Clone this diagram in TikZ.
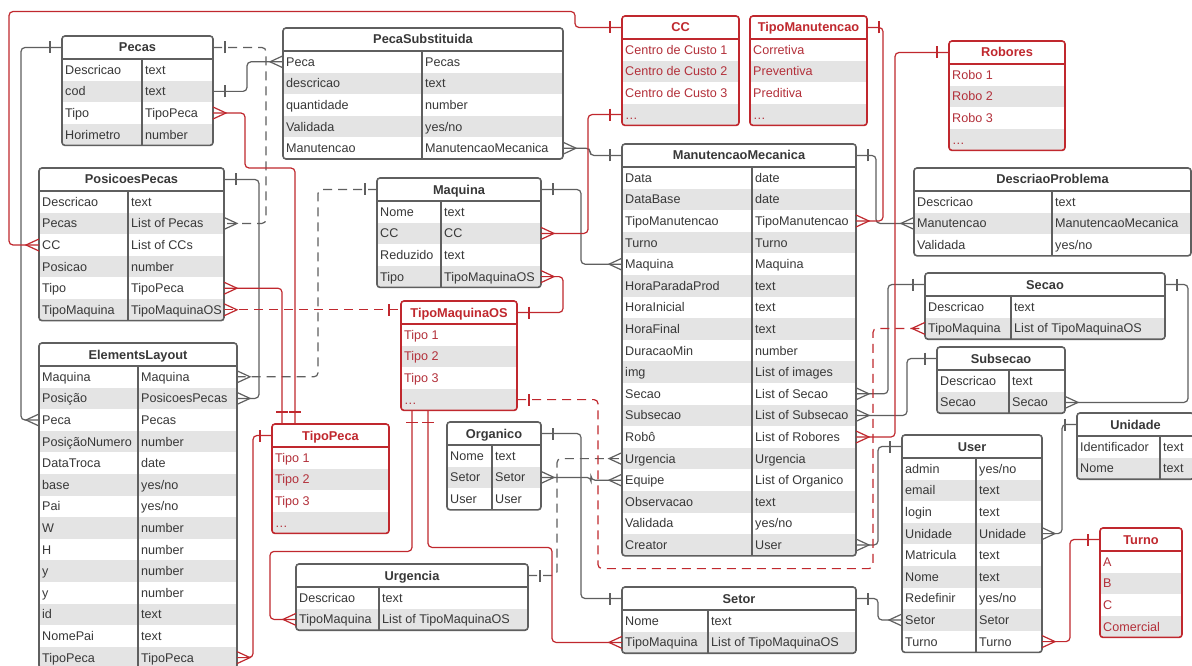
\documentclass[tikz,border=0pt]{standalone}
\usepackage{fontspec}
\setmainfont{Liberation Sans}
\usetikzlibrary{calc}
\usetikzlibrary{decorations.markings}

\definecolor{linegray}{HTML}{5F5F5F}
\definecolor{txtgray}{HTML}{383838}
\definecolor{rowgray}{HTML}{E4E4E4}
\definecolor{enumred}{HTML}{C0282E}
\definecolor{enumtext}{HTML}{B3303A}

\newcommand{\rowh}{21.6} % height of one field row, in px

\tikzset{
	tabhead/.style={inner sep=0, outer sep=0, fill=white, minimum height=23pt,
		text height=9pt, text depth=0pt, font=\fontsize{12.8}{15}\selectfont\bfseries, text=txtgray},
	rowcell/.style={inner sep=0, outer sep=0, minimum height={\rowh*1pt}},
	celltext/.style={anchor=west, inner sep=0, xshift=3pt, text height=9pt, text depth=0pt, text=txtgray},
	tabframe/.style={draw=linegray, line width=1.6pt},
	enumframe/.style={draw=enumred, line width=1.6pt},
	conn/.style={color=linegray, line width=1.2pt, rounded corners=4pt},
	redconn/.style={color=enumred, line width=1.2pt, rounded corners=4pt},
	dashlink/.style={dash pattern=on 9pt off 6pt},
	% crow's foot ends
	one end/.style={postaction={decorate,decoration={markings,
		mark=at position 1 with {\draw[solid, sharp corners] (-12pt,-6pt) -- (-12pt,6pt);}}}},
	one start/.style={postaction={decorate,decoration={markings,
		mark=at position 0 with {\draw[solid, sharp corners] (12pt,-6pt) -- (12pt,6pt);}}}},
	many end/.style={postaction={decorate,decoration={markings,
		mark=at position 1 with {\draw[solid, sharp corners] (0,-6pt) -- (-13pt,0) -- (0,6pt);}}}},
	many start/.style={postaction={decorate,decoration={markings,
		mark=at position 0 with {\draw[solid, sharp corners] (0,-6pt) -- (13pt,0) -- (0,6pt);}}}},
}

\newcommand{\enttable}[8] % name, left, top, divider, right, number of fields, title, fields
{
	% header
	\node[tabhead, minimum width={(#5-#2)*1pt}, anchor=north west] (#1) at (#2,#3) {#7};
	% fields
	\foreach \k/\v [count=\i] in {#8} {
		\pgfmathsetmacro{\rtop}{#3+23+(\i-1)*\rowh}
		\pgfmathsetmacro{\rmid}{\rtop+\rowh/2}
		\ifodd\i\relax \def\rfill{white}\else \def\rfill{rowgray}\fi
		\node[rowcell, fill=\rfill, minimum width={(#5-#2)*1pt}, anchor=north west] (#1-\i) at (#2,\rtop) {};
		\node[celltext] (#1-\i-k) at (#2,\rmid) {\k};
		\node[celltext] (#1-\i-v) at (#4,\rmid) {\v};
	}
	% frame
	\pgfmathsetmacro{\rbot}{#3+23+#6*\rowh}
	\draw[tabframe] (#2,#3+23) -- (#5,#3+23);
	\draw[tabframe] (#4,#3+23) -- (#4,\rbot);
	\draw[tabframe, rounded corners=3pt] (#2,#3) rectangle (#5,\rbot);
}

\newcommand{\enumtable}[6] % name, left, top, right, title, four values
{
	\node[tabhead, text=enumred, minimum width={(#4-#2)*1pt}, anchor=north west] (#1) at (#2,#3) {#5};
	\foreach \v [count=\i] in {#6} {
		\pgfmathsetmacro{\rtop}{#3+23+(\i-1)*\rowh}
		\pgfmathsetmacro{\rmid}{\rtop+\rowh/2}
		\ifodd\i\relax \def\rfill{white}\else \def\rfill{rowgray}\fi
		\node[rowcell, fill=\rfill, minimum width={(#4-#2)*1pt}, anchor=north west] (#1-\i) at (#2,\rtop) {};
		\node[celltext, text=enumtext] (#1-\i-k) at (#2,\rmid) {\v};
	}
	\pgfmathsetmacro{\rbot}{#3+23+4*\rowh}
	\draw[enumframe] (#2,#3+23) -- (#4,#3+23);
	\draw[enumframe, rounded corners=3pt] (#2,#3) rectangle (#4,\rbot);
}

\begin{document}
\begin{tikzpicture}[x=1pt, y=-1pt, font=\fontsize{12.6}{15}\selectfont]
	\useasboundingbox[fill=white] (0,0) rectangle (1192,666);

	% tables
	\enttable{pecas}{62}{36}{142}{213}{4}{Pecas}{Descricao/text, cod/text, Tipo/TipoPeca, Horimetro/number}
	\enttable{pecasub}{283}{28}{422}{563}{5}{PecaSubstituida}{Peca/Pecas, descricao/text, quantidade/number, Validada/{yes/no}, Manutencao/ManutencaoMecanica}
	\enttable{posic}{39}{168}{128}{224}{6}{PosicoesPecas}{Descricao/text, Pecas/List of Pecas, CC/List of CCs, Posicao/number, Tipo/TipoPeca, TipoMaquina/TipoMaquinaOS}
	\enttable{elem}{39}{343}{138}{237}{14}{ElementsLayout}{Maquina/Maquina, Posição/PosicoesPecas, Peca/Pecas, PosiçãoNumero/number, DataTroca/date, base/{yes/no}, Pai/{yes/no}, W/number, H/number, y/number, y/number, id/text, NomePai/text, TipoPeca/TipoPeca}
	\enttable{maquina}{377}{178}{441}{541}{4}{Maquina}{Nome/text, CC/CC, Reduzido/text, Tipo/TipoMaquinaOS}
	\enttable{manut}{622}{144}{752}{856}{18}{ManutencaoMecanica}{Data/date, DataBase/date, TipoManutencao/TipoManutencao, Turno/Turno, Maquina/Maquina, HoraParadaProd/text, HoraInicial/text, HoraFinal/text, DuracaoMin/number, img/List of images, Secao/List of Secao, Subsecao/List of Subsecao, Robô/List of Robores, Urgencia/Urgencia, Equipe/List of Organico, Observacao/text, Validada/{yes/no}, Creator/User}
	\enttable{descr}{914}{168}{1052}{1191}{3}{DescriaoProblema}{Descricao/text, Manutencao/ManutencaoMecanica, Validada/{yes/no}}
	\enttable{organico}{447}{422}{492}{541}{3}{Organico}{Nome/text, Setor/Setor, User/User}
	\enttable{urg}{296}{564}{379}{528}{2}{Urgencia}{Descricao/text, TipoMaquina/List of TipoMaquinaOS}
	\enttable{setor}{622}{587}{708}{856}{2}{Setor}{Nome/text, TipoMaquina/List of TipoMaquinaOS}
	\enttable{secao}{925}{273}{1011}{1165}{2}{Secao}{Descricao/text, TipoMaquina/List of TipoMaquinaOS}
	\enttable{subsec}{937}{347}{1009}{1065}{2}{Subsecao}{Descricao/text, Secao/Secao}
	\enttable{unidade}{1077}{413}{1160}{1194}{2}{Unidade}{Identificador/text, Nome/text}
	\enttable{user}{902}{435}{976}{1042}{9}{User}{admin/{yes/no}, email/text, login/text, Unidade/Unidade, Matricula/text, Nome/text, Redefinir/{yes/no}, Setor/Setor, Turno/Turno}

	% value lists
	\enumtable{cc}{622}{16}{739}{CC}{Centro de Custo 1, Centro de Custo 2, Centro de Custo 3, \ldots}
	\enumtable{tipoman}{750}{16}{867}{TipoManutencao}{Corretiva, Preventiva, Preditiva, \ldots}
	\enumtable{robores}{949}{41}{1065}{Robores}{Robo 1, Robo 2, Robo 3, \ldots}
	\enumtable{tmos}{401}{301}{517}{TipoMaquinaOS}{Tipo 1, Tipo 2, Tipo 3, \ldots}
	\enumtable{tipopeca}{272}{424}{389}{TipoPeca}{Tipo 1, Tipo 2, Tipo 3, \ldots}
	\enumtable{turno}{1100}{528}{1182}{Turno}{A, B, C, Comercial}

	% gray links
	\draw[conn, one start, many end] (pecas.west) -- ++(-41,0) |- (elem-3.west);
	\draw[conn, one start, many end] (pecas-2.east) -- ++(34,0) |- (pecasub-1.west);
	\draw[conn, dashlink, one start, many end] (pecas.east) -- ++(53,0) |- (posic-2.east);
	\draw[conn, one start, many end] (posic.east) -- ++(35,0) |- (elem-2.east);
	\draw[conn, dashlink, one start, many end] (maquina.west) -- ++(-59,0) |- (elem-1.east);
	\draw[conn, one start, many end] (maquina.east) -- ++(40,0) |- (manut-5.west);
	\draw[conn, many start, one end] (pecasub-5.east) -- ++(27,0) |- (manut.west);
	\draw[conn, one start, many end] (manut.east) -- ++(20,0) |- (descr-2.west);
	\draw[conn, one start, one end] (organico.east) -- ++(40,0) |- (setor.west);
	\draw[conn, many start, many end] (organico-2.east) -- ++(50,0) |- (manut-15.west);
	\draw[conn, dashlink, one start, many end] (urg.east) -- ++(29,0) |- (manut-14.west);
	\draw[conn, many start, one end] (manut-18.east) -- ++(22,0) |- (user.west);
	\draw[conn, one start, many end] (setor.east) -- ++(22,0) |- (user-8.west);
	\draw[conn, one start, many end] (subsec.west) -- ++(-30,0) |- (manut-12.east);
	\draw[conn, one start, many end] (secao.west) -- ++(-37,0) |- (manut-11.east);
	\draw[conn, one start, many end] (secao.east) -- ++(23,0) |- (subsec-2.east);
	\draw[conn, one start, many end] (unidade.west) -- ++(-15,0) |- (user-4.east);

	% red links
	\draw[redconn, one start, many end] (cc.west) -- ++(-47,0) |- ++(-566,-16) |- (posic-3.west);
	\draw[redconn, one start, many end] (cc-4.west) -- ++(-34,0) |- (maquina-2.east);
	\draw[redconn, one start, many end] (tipoman.east) -- ++(16,0) |- (manut-3.east);
	\draw[redconn, one start, many end] (robores.west) -- ++(-54,0) |- (manut-13.east);
	\draw[redconn, many start, one end] (pecas-3.east) -- ++(32,0) |- ++(50,55) -- ($(tipopeca.north west)+(23,0)$);
	\draw[redconn, many start, one end] (posic-5.east) -| ($(tipopeca.north west)+(10,0)$);
	\draw[redconn, many start, one end] (elem-14.east) -- ++(16,0) |- (tipopeca.west);
	\draw[redconn, dashlink, many start, one end] (posic-6.east) -- (posic-6.east -| tmos.west);
	\draw[redconn, many start, one end] (maquina-4.east) -- ++(22,0) |- (tmos.east);
	\draw[redconn, dashlink, one start, many end] (tmos-4.east) -- ++(81,0) |- ++(275,169) |- (secao-2.west);
	\draw[redconn, one start, many end] ($(tmos-4.south west)+(11,0)$) |- ++(-142,141) |- (urg-2.west);
	\draw[redconn, one start, many end] ($(tmos-4.south west)+(27,0)$) |- ++(124,137) |- (setor-2.west);
	\draw[redconn, many start, one end] (user-9.east) -- ++(28,0) |- (turno.west);
\end{tikzpicture}
\end{document}
